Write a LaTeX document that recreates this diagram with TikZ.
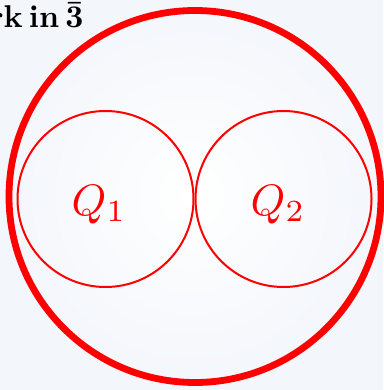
\documentclass[tikz,border=0pt]{standalone}
\usepackage{amsmath}
\begin{document}
\begin{tikzpicture}[x=1pt,y=-1pt,
  bigring/.style={draw=red,line width=6.8pt},
  smallring/.style={draw=red,line width=2pt},
  qlabel/.style={text=red,font=\fontsize{10}{12}\selectfont,scale=4.4,inner sep=0pt,anchor=base},
  toplabel/.style={text=black,font=\fontsize{10}{12}\selectfont\bfseries,scale=3.15,inner sep=0pt,anchor=base west}]
\definecolor{bgedge}{RGB}{243,246,251}
\useasboundingbox (0,0) rectangle (383,390);
\shade[inner color=white,outer color=bgedge] (0,0) rectangle (383,390);
\node[toplabel] (t) at (-12,28) {rk\hspace{0.2em}in\hspace{0.2em}$\boldsymbol{\bar{3}}$};
\draw[bigring] (195,196.5) circle[radius=186];
\draw[smallring] (105.5,199) circle[radius=88];
\draw[smallring] (283.5,199) circle[radius=88];
\node[qlabel] (q1) at (99,215) {$Q_1$};
\node[qlabel] (q2) at (278,215) {$Q_2$};
\end{tikzpicture}
\end{document}
